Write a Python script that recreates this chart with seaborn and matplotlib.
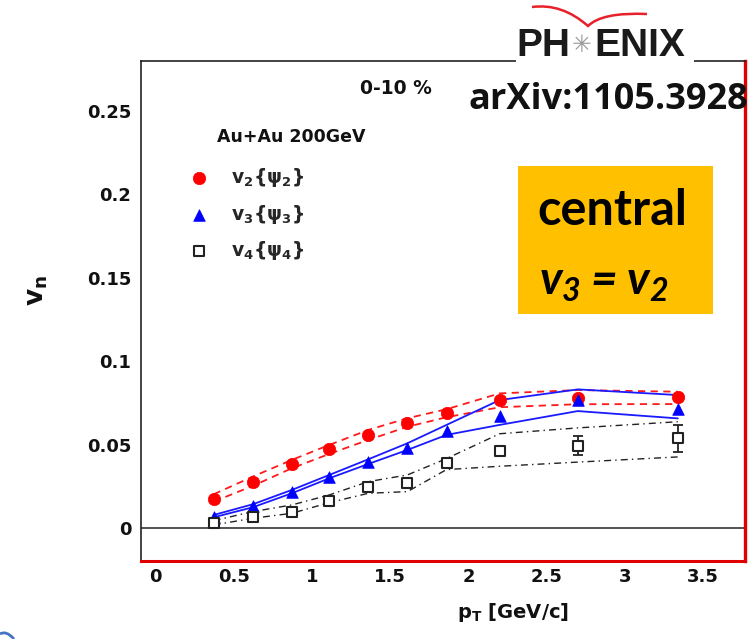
import numpy as np
import pandas as pd
import matplotlib
matplotlib.use("Agg")
import matplotlib.pyplot as plt
from matplotlib.patches import Rectangle, PathPatch
from matplotlib.path import Path
from matplotlib.ticker import MultipleLocator
import seaborn as sns

# ---------------- data ----------------
pt = [0.37, 0.62, 0.87, 1.11, 1.36, 1.61, 1.86, 2.20, 2.70, 3.34]

v2 = [0.0174, 0.0278, 0.0382, 0.0472, 0.0558, 0.0631, 0.0688, 0.0767, 0.0781, 0.0784]
v2_hi = [0.0202, 0.0308, 0.0408, 0.0498, 0.0588, 0.0658, 0.0712, 0.0807, 0.0827, 0.0817]
v2_lo = [0.0158, 0.0252, 0.0358, 0.0444, 0.0528, 0.0607, 0.0664, 0.0724, 0.0742, 0.0743]

v3 = [0.0068, 0.0132, 0.0214, 0.0308, 0.0394, 0.0478, 0.0583, 0.0673, 0.0767, 0.0713]
v3_hi = [0.0078, 0.0142, 0.0228, 0.0318, 0.0412, 0.0508, 0.0618, 0.0767, 0.0831, 0.0797]
v3_lo = [0.0064, 0.0124, 0.0208, 0.0298, 0.0384, 0.0468, 0.0558, 0.0618, 0.0701, 0.0657]

v4 = [0.0028, 0.0068, 0.0098, 0.0164, 0.0244, 0.0268, 0.0388, 0.0462, 0.0492, 0.0538]
v4_err = [0.0005, 0.0005, 0.0006, 0.0007, 0.0009, 0.0012, 0.0015, 0.0025, 0.0057, 0.0082]
v4_hi = [0.0044, 0.0098, 0.0138, 0.0198, 0.0278, 0.0318, 0.0416, 0.0565, 0.0600, 0.0637]
v4_lo = [0.0018, 0.0058, 0.0088, 0.0152, 0.0208, 0.0218, 0.0350, 0.0370, 0.0395, 0.0426]

labels = [r"$\mathbf{v_2\{\psi_2\}}$", r"$\mathbf{v_3\{\psi_3\}}$", r"$\mathbf{v_4\{\psi_4\}}$"]
xticks = [0, 0.5, 1, 1.5, 2, 2.5, 3, 3.5]
yticks = [0, 0.05, 0.1, 0.15, 0.2, 0.25]

# ---------------- style ----------------
sns.set_style("white")
plt.rcParams["font.family"] = ["DejaVu Sans"]
plt.rcParams["mathtext.fontset"] = "custom"
plt.rcParams["mathtext.rm"] = "DejaVu Sans"
plt.rcParams["mathtext.it"] = "DejaVu Sans:italic"
plt.rcParams["mathtext.bf"] = "DejaVu Sans:bold"
plt.rcParams["mathtext.sf"] = "DejaVu Sans"
try:
    plt.rcParams["mathtext.bfit"] = "Lato:italic:bold"
    HAS_BFIT = True
except Exception:
    HAS_BFIT = False

W, H = 755, 639
fig = plt.figure(figsize=(W / 100, H / 100), dpi=100)
fig.patch.set_facecolor("white")

def fx(x):
    return x / W

def fy(y):
    return 1 - y / H

ax = fig.add_axes([fx(141), fy(561), fx(745) - fx(141), fy(61) - fy(561)])
ax.set_facecolor("white")

# band lines
for lo, hi, col, ls, lw in [(v2_lo, v2_hi, "#ff1a1a", (0, (4, 3)), 1.3),
                            (v3_lo, v3_hi, "#1a1aff", "-", 1.3),
                            (v4_lo, v4_hi, "#222222", (0, (5, 3, 1, 3)), 1.0)]:
    sns.lineplot(x=pt, y=hi, color=col, linestyle=ls, linewidth=lw, ax=ax, zorder=2)
    sns.lineplot(x=pt, y=lo, color=col, linestyle=ls, linewidth=lw, ax=ax, zorder=2)

ax.errorbar(pt, v4, yerr=v4_err, fmt="none", ecolor="#222222", elinewidth=1.3,
            capsize=3.5, capthick=1.3, zorder=3)

sns.scatterplot(x=pt, y=v2, marker="o", s=80, color="#ff0000", edgecolor="#ff0000",
                linewidth=0.5, ax=ax, zorder=4, label=labels[0])
sns.scatterplot(x=pt, y=v3, marker="^", s=70, color="#0000ff", edgecolor="#0000ff",
                linewidth=0.5, ax=ax, zorder=4, label=labels[1])
sns.scatterplot(x=pt, y=v4, marker="s", s=50, facecolor="white", edgecolor="#222222",
                linewidth=1.5, ax=ax, zorder=4, label=labels[2])

ax.axhline(0, color="#222222", linewidth=1.1, zorder=1)

ax.set_xlim(-0.095, 3.77)
ax.set_ylim(-0.0198, 0.28)
ax.set_xticks(xticks)
ax.set_xticklabels([("%g" % t) for t in xticks])
ax.set_yticks(yticks)
ax.set_yticklabels([("%g" % t) for t in yticks])
ax.xaxis.set_minor_locator(MultipleLocator(0.1))
ax.yaxis.set_minor_locator(MultipleLocator(0.01))
ax.tick_params(axis="x", which="major", direction="in", length=9.5, width=1.1,
               color="#222222", pad=5, labelsize=13)
ax.tick_params(axis="x", which="minor", direction="in", length=5, width=1.1, color="#222222")
ax.tick_params(axis="y", which="major", direction="in", length=15, width=1.1,
               color="#222222", pad=7, labelsize=13)
ax.tick_params(axis="y", which="minor", direction="in", length=7.5, width=1.1, color="#222222")
for lab in ax.get_xticklabels() + ax.get_yticklabels():
    lab.set_fontweight("bold")
    lab.set_color("#111111")

for side in ["left", "top"]:
    ax.spines[side].set_color("#222222")
    ax.spines[side].set_linewidth(1.2)
ax.spines["bottom"].set_color("#e00000")
ax.spines["bottom"].set_linewidth(2.2)
ax.spines["right"].set_color("#e00000")
ax.spines["right"].set_linewidth(2.4)

ax.set_xlabel(r"$\mathbf{p_T}$ [GeV/c]", fontsize=14, fontweight="bold", color="#111111")
ax.xaxis.set_label_coords((513 - 141) / (745 - 141), (561 - 601) / 500)
ax.set_ylabel(r"$\mathbf{v_n}$", fontsize=19, color="#111111")
ax.yaxis.set_label_coords((50 - 141) / 604, (561 - 290) / 500)

# legend
leg = ax.legend(loc="upper left", bbox_to_anchor=(fx(190), fy(166)), bbox_transform=fig.transFigure,
                frameon=False, fontsize=13.5, handletextpad=1.2, labelspacing=0.72,
                handlelength=1.0, borderpad=0.0, borderaxespad=0.0)

fig.text(fx(217), fy(137), "Au+Au 200GeV", fontsize=12.5, fontweight="bold",
         va="center", ha="left", color="#111111")
fig.text(fx(396), fy(88), "0-10 %", fontsize=13.5, fontweight="bold",
         va="center", ha="center", color="#111111")

# arXiv reference
fig.text(fx(748), fy(100), "arXiv:1105.3928", fontsize=26, fontweight="bold",
         family="Open Sans", ha="right", va="center", color="#111111", zorder=6)

# PHENIX logo
fig.patches.append(Rectangle((fx(516), fy(64)), fx(694) - fx(516), fy(20) - fy(64),
                             transform=fig.transFigure, facecolor="white",
                             edgecolor="none", zorder=5))
fig.text(fx(516), fy(46), "PH", fontsize=28, fontweight="bold", family="Liberation Sans",
         ha="left", va="center", color="#1a1a1a", zorder=6)
fig.text(fx(582), fy(45), "\u2733", fontsize=17, family="DejaVu Sans",
         ha="center", va="center", color="#9a9a9a", zorder=6)
fig.text(fx(594), fy(46), "ENIX", fontsize=28, fontweight="bold", family="Liberation Sans",
         ha="left", va="center", color="#1a1a1a", zorder=6)
verts = [(fx(532), fy(7)), (fx(562), fy(3)), (fx(588), fy(26)),
         (fx(602), fy(12)), (fx(647), fy(14))]
codes = [Path.MOVETO, Path.CURVE3, Path.CURVE3, Path.CURVE3, Path.CURVE3]
fig.patches.append(PathPatch(Path(verts, codes), transform=fig.transFigure, facecolor="none",
                             edgecolor="#e8202a", linewidth=1.8, zorder=6))

# orange box
fig.patches.append(Rectangle((fx(518), fy(314)), fx(713) - fx(518), fy(166) - fy(314),
                             transform=fig.transFigure, facecolor="#ffc000",
                             edgecolor="none", zorder=5))
fig.text(fx(612), fy(210), "central", fontsize=35, fontweight="bold", family="Lato",
         ha="center", va="center", color="black", zorder=6)
if HAS_BFIT:
    box_eq = r"$\mathbfit{v_3=v_2}$"
else:
    box_eq = r"$v_3=v_2$"
fig.text(fx(604), fy(282), box_eq, fontsize=33,
         ha="center", va="center", color="black", zorder=6)

# slide decoration bottom-left
fig.patches.append(PathPatch(Path([(fx(0), fy(634)), (fx(6), fy(630)), (fx(14), fy(639))],
                                  [Path.MOVETO, Path.CURVE3, Path.CURVE3]),
                             transform=fig.transFigure, facecolor="none",
                             edgecolor="#4472c4", linewidth=2, zorder=6))

fig.savefig("out.png", dpi=100)
